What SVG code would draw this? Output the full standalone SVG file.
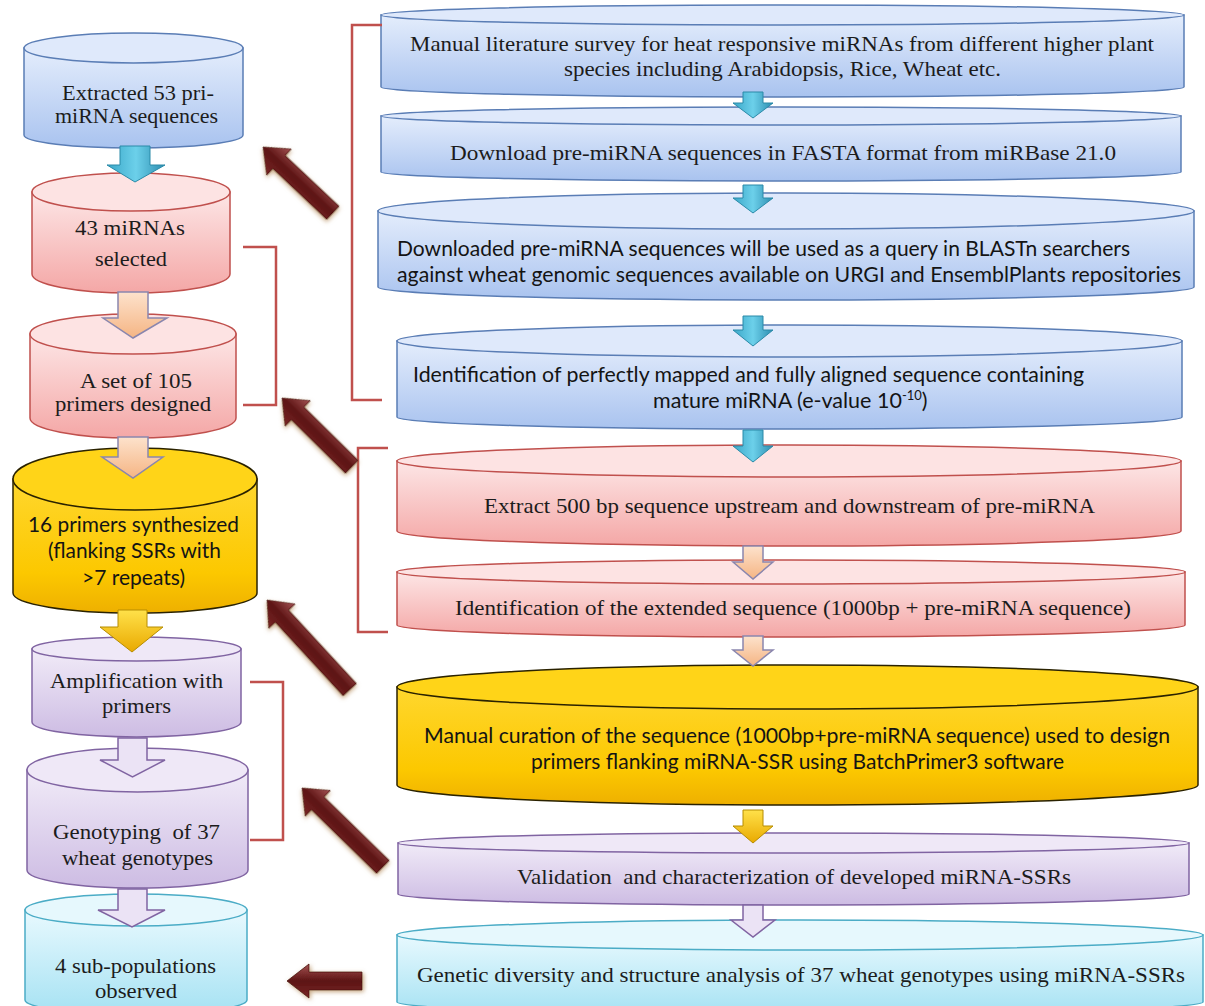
<svg xmlns="http://www.w3.org/2000/svg" width="1205" height="1006" viewBox="0 0 1205 1006">
<defs>
<linearGradient id="gBlue" x1="0" y1="0" x2="0" y2="1"><stop offset="0" stop-color="#e4edfc"/><stop offset="1" stop-color="#a9c3ef"/></linearGradient>
<linearGradient id="gPink" x1="0" y1="0" x2="0" y2="1"><stop offset="0" stop-color="#fde6e6"/><stop offset="1" stop-color="#f4a7a6"/></linearGradient>
<linearGradient id="gYel" x1="0" y1="0" x2="0" y2="1"><stop offset="0" stop-color="#ffd72e"/><stop offset="0.7" stop-color="#fcc800"/><stop offset="1" stop-color="#eeb000"/></linearGradient>
<linearGradient id="gPur" x1="0" y1="0" x2="0" y2="1"><stop offset="0" stop-color="#f1ebf8"/><stop offset="1" stop-color="#cdbce3"/></linearGradient>
<linearGradient id="gCyan" x1="0" y1="0" x2="0" y2="1"><stop offset="0" stop-color="#e8f9fe"/><stop offset="1" stop-color="#a6e2f3"/></linearGradient>
<linearGradient id="aTeal" x1="0" y1="0" x2="1" y2="0"><stop offset="0" stop-color="#3aa7c8"/><stop offset="0.5" stop-color="#6cd0ea"/><stop offset="1" stop-color="#2d8db0"/></linearGradient>
<linearGradient id="aPeach" x1="0" y1="0" x2="0" y2="1"><stop offset="0" stop-color="#fde2cc"/><stop offset="1" stop-color="#f5b584"/></linearGradient>
<linearGradient id="aYel" x1="0" y1="0" x2="0" y2="1"><stop offset="0" stop-color="#ffe14a"/><stop offset="1" stop-color="#e9a900"/></linearGradient>
<linearGradient id="aBrown" x1="0" y1="0" x2="0" y2="1"><stop offset="0" stop-color="#a45252"/><stop offset="0.5" stop-color="#5c1414"/><stop offset="1" stop-color="#7a2626"/></linearGradient>
<filter id="glow" x="-30%" y="-30%" width="160%" height="160%"><feDropShadow dx="1.5" dy="1.5" stdDeviation="2.2" flood-color="#b89060" flood-opacity="0.8"/></filter>
<style>
.serif{font-family:"Liberation Serif","Times New Roman",serif;fill:#1c1c1c;}
.sans{font-family:Lato,"Liberation Sans",sans-serif;fill:#141414;}
.l{font-size:22px;}
.r{font-size:22px;}
.rs{font-size:21.5px;}
.blue{fill:url(#gBlue);stroke:#5a7db5;stroke-width:1.5;}
.blueTop{fill:#dfe9fb;stroke:#5a7db5;stroke-width:1.5;}
.pink{fill:url(#gPink);stroke:#c0504d;stroke-width:1.5;}
.pinkTop{fill:#fde3e3;stroke:#c0504d;stroke-width:1.5;}
.yel{fill:url(#gYel);stroke:#2a2200;stroke-width:1.5;}
.yelTop{fill:#ffd418;stroke:#2a2200;stroke-width:1.5;}
.pur{fill:url(#gPur);stroke:#8064a2;stroke-width:1.5;}
.purTop{fill:#efe8f7;stroke:#8064a2;stroke-width:1.5;}
.cyan{fill:url(#gCyan);stroke:#4bacc6;stroke-width:1.5;}
.cyanTop{fill:#e6f8fd;stroke:#4bacc6;stroke-width:1.5;}
.bracket{fill:none;stroke:#c0504d;stroke-width:2.5;}
.teal{fill:url(#aTeal);stroke:#2a8aa8;stroke-width:1;}
.peach{fill:url(#aPeach);stroke:#8a86ae;stroke-width:1.5;}
.ya{fill:url(#aYel);stroke:#b68c00;stroke-width:1;}
.pa{fill:#ebe3f5;stroke:#8064a2;stroke-width:1.5;}
.brown{fill:url(#aBrown);stroke:#4a0e0e;stroke-width:0.8;filter:url(#glow);}
</style>
</defs>
<rect width="1205" height="1006" fill="#ffffff"/>

<!-- Left column nodes -->
<g id="n1">
<path class="blue" d="M24,48 L24,135 A109.5,13 0 0 0 243,135 L243,48 Z"/>
<ellipse class="blueTop" cx="133.5" cy="48" rx="109.5" ry="15"/>
<text class="serif l" x="138" y="100" text-anchor="middle" textLength="152" lengthAdjust="spacingAndGlyphs">Extracted 53 pri-</text>
<text class="serif l" x="136.5" y="123" text-anchor="middle" textLength="163" lengthAdjust="spacingAndGlyphs">miRNA sequences</text>
</g>
<g id="n2">
<path class="pink" d="M32,192 L32,274 A99,19 0 0 0 230,274 L230,192 Z"/>
<ellipse class="pinkTop" cx="131" cy="192" rx="99" ry="19"/>
<text class="serif l" x="130" y="235" text-anchor="middle" textLength="110" lengthAdjust="spacingAndGlyphs">43 miRNAs</text>
<text class="serif l" x="131" y="266" text-anchor="middle" textLength="72" lengthAdjust="spacingAndGlyphs">selected</text>
</g>
<g id="n3">
<path class="pink" d="M30,334 L30,418 A103,20 0 0 0 236,418 L236,334 Z"/>
<ellipse class="pinkTop" cx="133" cy="334" rx="103" ry="20"/>
<text class="serif l" x="136" y="388" text-anchor="middle" textLength="112" lengthAdjust="spacingAndGlyphs">A set of 105</text>
<text class="serif l" x="133" y="411" text-anchor="middle" textLength="156" lengthAdjust="spacingAndGlyphs">primers designed</text>
</g>
<g id="n4">
<path class="yel" d="M13,479 L13,593 A122,20 0 0 0 257,593 L257,479 Z"/>
<ellipse class="yelTop" cx="135" cy="479" rx="122" ry="31"/>
<text class="sans" font-size="21.5" x="133.5" y="532" text-anchor="middle" textLength="211" lengthAdjust="spacingAndGlyphs">16 primers synthesized</text>
<text class="sans" font-size="21.5" x="134.5" y="558" text-anchor="middle" textLength="173" lengthAdjust="spacingAndGlyphs">(flanking SSRs with</text>
<text class="sans" font-size="21.5" x="133.5" y="585" text-anchor="middle" textLength="103" lengthAdjust="spacingAndGlyphs">&gt;7 repeats)</text>
</g>
<g id="n5">
<path class="pur" d="M32,649 L32,722 A104.5,15 0 0 0 241,722 L241,649 Z"/>
<ellipse class="purTop" cx="136.5" cy="649" rx="104.5" ry="12"/>
<text class="serif l" x="136.5" y="688" text-anchor="middle" textLength="173" lengthAdjust="spacingAndGlyphs">Amplification with</text>
<text class="serif l" x="136.5" y="713" text-anchor="middle" textLength="69" lengthAdjust="spacingAndGlyphs">primers</text>
</g>
<g id="n6">
<path class="pur" d="M27,770 L27,870 A110.5,18 0 0 0 248,870 L248,770 Z"/>
<ellipse class="purTop" cx="137.5" cy="770" rx="110.5" ry="22"/>
<text class="serif l" x="136.5" y="839" text-anchor="middle" textLength="167" lengthAdjust="spacingAndGlyphs" xml:space="preserve">Genotyping  of 37</text>
<text class="serif l" x="137.5" y="865" text-anchor="middle" textLength="151" lengthAdjust="spacingAndGlyphs">wheat genotypes</text>
</g>
<g id="n7">
<path class="cyan" d="M25,910 L25,1000 A111,14 0 0 0 247,1000 L247,910 Z"/>
<ellipse class="cyanTop" cx="136" cy="910" rx="111" ry="16"/>
<text class="serif l" x="135.5" y="973" text-anchor="middle" textLength="161" lengthAdjust="spacingAndGlyphs">4 sub-populations</text>
<text class="serif l" x="136" y="998" text-anchor="middle" textLength="82" lengthAdjust="spacingAndGlyphs">observed</text>
</g>

<!-- Right column nodes -->
<g id="r1">
<path class="blue" d="M381,15 L381,87 A401.5,10 0 0 0 1184,87 L1184,15 Z"/>
<ellipse class="blueTop" cx="782.5" cy="15" rx="401.5" ry="10"/>
<text class="serif r" x="782" y="51" text-anchor="middle" textLength="744" lengthAdjust="spacingAndGlyphs">Manual literature survey for heat responsive miRNAs from different higher plant</text>
<text class="serif r" x="782.5" y="76" text-anchor="middle" textLength="437" lengthAdjust="spacingAndGlyphs">species including Arabidopsis, Rice, Wheat etc.</text>
</g>
<g id="r2">
<path class="blue" d="M381,116 L381,172 A400,9 0 0 0 1181,172 L1181,116 Z"/>
<ellipse class="blueTop" cx="781" cy="116" rx="400" ry="9"/>
<text class="serif r" x="783" y="160" text-anchor="middle" textLength="666" lengthAdjust="spacingAndGlyphs">Download pre-miRNA sequences in FASTA format from miRBase 21.0</text>
</g>
<g id="r3">
<path class="blue" d="M378,211 L378,287 A408,13 0 0 0 1194,287 L1194,211 Z"/>
<ellipse class="blueTop" cx="786" cy="211" rx="408" ry="18"/>
<text class="sans rs" x="397" y="256" textLength="733" lengthAdjust="spacingAndGlyphs">Downloaded pre-miRNA sequences will be used as a query in BLASTn searchers</text>
<text class="sans rs" x="397" y="282" textLength="784" lengthAdjust="spacingAndGlyphs">against wheat genomic sequences available on URGI and EnsemblPlants repositories</text>
</g>
<g id="r4">
<path class="blue" d="M397,341 L397,417 A392.5,12 0 0 0 1182,417 L1182,341 Z"/>
<ellipse class="blueTop" cx="789.5" cy="341" rx="392.5" ry="16"/>
<text class="sans rs" x="413" y="382" textLength="671" lengthAdjust="spacingAndGlyphs">Identification of perfectly mapped and fully aligned sequence containing</text>
<text class="sans" font-size="21.5" x="653" y="408">mature miRNA (e-value 10<tspan font-size="13" dy="-8">-10</tspan><tspan dy="8">)</tspan></text>
</g>
<g id="r5">
<path class="pink" d="M397,461 L397,531 A392,15 0 0 0 1181,531 L1181,461 Z"/>
<ellipse class="pinkTop" cx="789" cy="461" rx="392" ry="16"/>
<text class="serif r" x="789.5" y="513" text-anchor="middle" textLength="611" lengthAdjust="spacingAndGlyphs">Extract 500 bp sequence upstream and downstream of pre-miRNA</text>
</g>
<g id="r6">
<path class="pink" d="M397,572 L397,625 A394,12 0 0 0 1185,625 L1185,572 Z"/>
<ellipse class="pinkTop" cx="791" cy="572" rx="394" ry="12"/>
<text class="serif r" x="793" y="615" text-anchor="middle" textLength="676" lengthAdjust="spacingAndGlyphs">Identification of the extended sequence (1000bp + pre-miRNA sequence)</text>
</g>
<g id="r7">
<path class="yel" d="M397,687 L397,785 A400.5,20 0 0 0 1198,785 L1198,687 Z"/>
<ellipse class="yelTop" cx="797.5" cy="687" rx="400.5" ry="22"/>
<text class="sans rs" x="797" y="743" text-anchor="middle" textLength="746" lengthAdjust="spacingAndGlyphs">Manual curation of the sequence (1000bp+pre-miRNA sequence) used to design</text>
<text class="sans rs" x="797.5" y="769" text-anchor="middle" textLength="533" lengthAdjust="spacingAndGlyphs">primers flanking miRNA-SSR using BatchPrimer3 software</text>
</g>
<g id="r8">
<path class="pur" d="M398,843 L398,894 A395.5,11 0 0 0 1189,894 L1189,843 Z"/>
<ellipse class="purTop" cx="793.5" cy="843" rx="395.5" ry="10"/>
<text class="serif r" x="794" y="884" text-anchor="middle" textLength="554" lengthAdjust="spacingAndGlyphs" xml:space="preserve">Validation  and characterization of developed miRNA-SSRs</text>
</g>
<g id="r9">
<path class="cyan" d="M397,935 L397,1002 A403,12 0 0 0 1203,1002 L1203,935 Z"/>
<ellipse class="cyanTop" cx="800" cy="935" rx="403" ry="15"/>
<text class="serif r" x="801" y="982" text-anchor="middle" textLength="768" lengthAdjust="spacingAndGlyphs">Genetic diversity and structure analysis of 37 wheat genotypes using miRNA-SSRs</text>
</g>

<!-- Connectors -->
<g id="connectors">
<polyline class="bracket" points="243,247 276,247 276,405 243,405"/>
<polyline class="bracket" points="382,25 352,25 352,400 382,400"/>
<polyline class="bracket" points="388,448 358,448 358,632 388,632"/>
<polyline class="bracket" points="250,682 283,682 283,840 250,840"/>

<path class="teal" d="M120,146 H150 V165 H165 L135,182 L107,165 H120 Z"/>
<path class="peach" d="M118,292 H148 V318 H167 L133,338 L103,318 H118 Z"/>
<path class="peach" d="M118,437 H148 V457 H163 L133,478 L102,457 H118 Z"/>
<path class="ya" d="M118,610 H147 V627 H163 L132,652 L100,627 H118 Z"/>
<path class="pa" d="M118,738 H147 V760 H165 L132.5,777 L100,760 H118 Z"/>
<path class="pa" d="M118,889 H147 V910 H165 L132,927 L98,910 H118 Z"/>

<path class="teal" d="M743,92 H763 V103 H773 L753,118 L733,103 H743 Z"/>
<path class="teal" d="M743,185 H763 V198 H773 L753,213 L733,198 H743 Z"/>
<path class="teal" d="M743,316 H763 V330 H773 L753,346 L733,330 H743 Z"/>
<path class="teal" d="M743,430 H763 V446 H773 L753,462 L733,446 H743 Z"/>
<path class="peach" d="M743,546 H763 V562 H773 L753,579 L733,562 H743 Z"/>
<path class="peach" d="M743,636 H763 V650 H773 L753,666 L733,650 H743 Z"/>
<path class="ya" d="M743,810 H763 V826 H773 L753,843 L733,826 H743 Z"/>
<path class="pa" d="M743,905 H763 V920 H775 L753,937 L731,920 H743 Z"/>

<path class="brown" transform="translate(263,147) rotate(43.3)" d="M0,0 L22,-18 L22,-9 L96,-9 L96,9 L22,9 L22,18 Z"/>
<path class="brown" transform="translate(282,398) rotate(44.6)" d="M0,0 L22,-18 L22,-9 L98,-9 L98,9 L22,9 L22,18 Z"/>
<path class="brown" transform="translate(267,600) rotate(47.3)" d="M0,0 L22,-18 L22,-9 L122,-9 L122,9 L22,9 L22,18 Z"/>
<path class="brown" transform="translate(302,788) rotate(44.3)" d="M0,0 L22,-18 L22,-9 L113,-9 L113,9 L22,9 L22,18 Z"/>
<path class="brown" transform="translate(287,981)" d="M0,0 L22,-17 L22,-9 L75,-9 L75,9 L22,9 L22,17 Z"/>
</g>
</svg>
